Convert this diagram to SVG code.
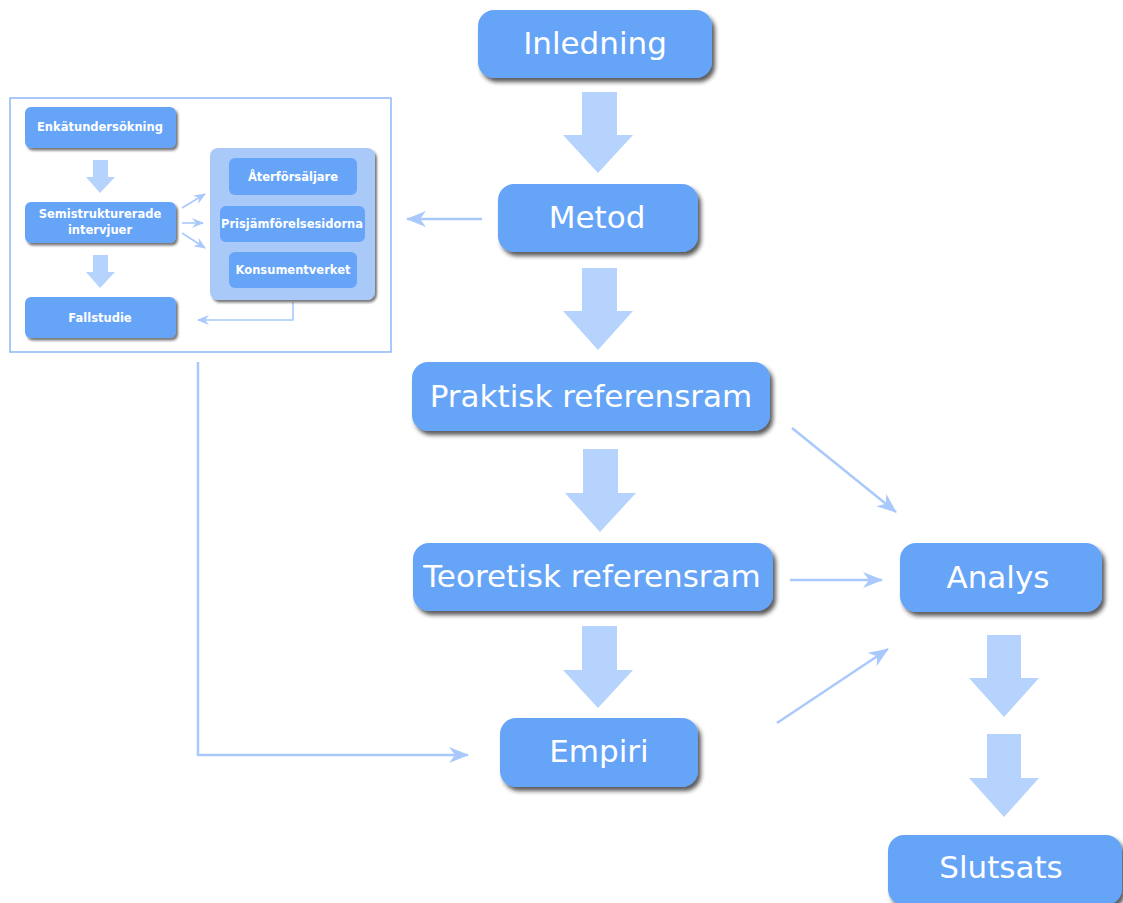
<svg xmlns="http://www.w3.org/2000/svg" width="1123" height="903" viewBox="0 0 1123 903">
<defs>
<filter id="sh" x="-10%" y="-20%" width="125%" height="150%">
<feDropShadow dx="3" dy="4" stdDeviation="2.2" flood-color="#222222" flood-opacity="0.75"/>
</filter>
<filter id="shs" x="-10%" y="-20%" width="125%" height="150%">
<feDropShadow dx="2" dy="2.5" stdDeviation="1.3" flood-color="#222222" flood-opacity="0.6"/>
</filter>
<marker id="ah" viewBox="0 0 20 16" refX="19" refY="8" markerWidth="20" markerHeight="16" markerUnits="userSpaceOnUse" orient="auto">
<path d="M0,0 L20,8 L0,16 L6,8 Z" fill="#a9c8fb"/>
</marker>
<marker id="ahs" viewBox="0 0 12 10" refX="11" refY="5" markerWidth="12" markerHeight="10" markerUnits="userSpaceOnUse" orient="auto">
<path d="M0,0 L12,5 L0,10 L4,5 Z" fill="#a9c8fb"/>
</marker>
</defs>
<style>
.n{fill:#66a4f8;filter:url(#sh)}
.ns{fill:#66a4f8;filter:url(#shs)}
.t{font-family:"DejaVu Sans",Verdana,sans-serif;font-size:31px;fill:#ffffff;text-anchor:middle;dominant-baseline:central}
.ts{font-family:"DejaVu Sans",Verdana,sans-serif;font-size:11.5px;font-weight:bold;fill:#ffffff;text-anchor:middle;dominant-baseline:central}
.ba{fill:#b6d3fd}
.ln{fill:none;stroke:#a9c8fb;stroke-width:2.5}
.lns{fill:none;stroke:#a9c8fb;stroke-width:1.6}
</style>
<rect width="1123" height="903" fill="#ffffff"/>
<rect id="metod-ram" x="10" y="98" width="381" height="254" fill="none" stroke="#8db8f7" stroke-width="1.5"/>

<g id="connectors">
<path class="ba" d="M582,92 H617 V135 H633 L598,173 L563,135 H582 Z"/>
<path class="ba" d="M582,268 H617 V311 H633 L598,350 L563,311 H582 Z"/>
<path class="ba" d="M583,449 H618 V493 H636 L600,532 L565,493 H583 Z"/>
<path class="ba" d="M582,626 H617 V670 H633 L598,708 L563,670 H582 Z"/>
<path class="ba" d="M987,635 H1021 V678 H1039 L1004,717 L969,678 H987 Z"/>
<path class="ba" d="M987,734 H1021 V778 H1039 L1004,817 L969,778 H987 Z"/>
<path class="ba" d="M93,160 H108 V177 H115 L100,193 L86,177 H93 Z"/>
<path class="ba" d="M93,255 H108 V272 H115 L100,288 L86,272 H93 Z"/>
<line class="ln" x1="482" y1="219" x2="407" y2="219" marker-end="url(#ah)"/>
<line class="ln" x1="792" y1="428" x2="896" y2="512" marker-end="url(#ah)"/>
<line class="ln" x1="790" y1="580" x2="882" y2="580" marker-end="url(#ah)"/>
<line class="ln" x1="777" y1="723" x2="888" y2="649" marker-end="url(#ah)"/>
<polyline class="ln" points="198,362 198,755 468,755" marker-end="url(#ah)"/>
<line class="lns" x1="182" y1="208" x2="205" y2="194" marker-end="url(#ahs)"/>
<line class="lns" x1="182" y1="223" x2="203" y2="223" marker-end="url(#ahs)"/>
<line class="lns" x1="182" y1="233" x2="205" y2="248" marker-end="url(#ahs)"/>
<polyline class="lns" points="293,302 293,320 198,320" marker-end="url(#ahs)"/>
</g>

<g id="inledning"><rect class="n" x="478" y="10" width="234" height="68" rx="16"/><text class="t" x="595" y="43">Inledning</text></g>
<g id="metod"><rect class="n" x="498" y="184" width="200" height="68" rx="16"/><text class="t" x="597" y="217">Metod</text></g>
<g id="praktisk"><rect class="n" x="412" y="362" width="358" height="69" rx="16"/><text class="t" x="591" y="396">Praktisk referensram</text></g>
<g id="teoretisk"><rect class="n" x="413" y="543" width="360" height="68" rx="16"/><text class="t" x="592" y="576">Teoretisk referensram</text></g>
<g id="empiri"><rect class="n" x="500" y="718" width="198" height="69" rx="16"/><text class="t" x="599" y="751">Empiri</text></g>
<g id="analys"><rect class="n" x="900" y="543" width="202" height="69" rx="16"/><text class="t" x="998" y="577">Analys</text></g>
<g id="slutsats"><rect class="n" x="888" y="835" width="234" height="70" rx="16"/><text class="t" x="1001" y="867">Slutsats</text></g>

<g id="metod-detalj">
<g id="enkat"><rect class="ns" x="25" y="107" width="151" height="41" rx="6"/><text class="ts" x="100" y="127">Enkätundersökning</text></g>
<g id="semi"><rect class="ns" x="25" y="202" width="151" height="41" rx="6"/><text class="ts" x="100" y="214">Semistrukturerade</text><text class="ts" x="100" y="230">intervjuer</text></g>
<g id="fallstudie"><rect class="ns" x="25" y="297" width="151" height="41" rx="6"/><text class="ts" x="100" y="318">Fallstudie</text></g>
<g id="kallor">
<rect x="210" y="148" width="165" height="152" rx="8" fill="#a9c9f9" filter="url(#shs)"/>
<g id="aterforsaljare"><rect x="229" y="158" width="128" height="37" rx="6" fill="#66a4f8"/><text class="ts" x="293" y="177">Återförsäljare</text></g>
<g id="prisjamforelse"><rect x="220" y="206" width="145" height="36" rx="6" fill="#66a4f8"/><text class="ts" x="292" y="224">Prisjämförelsesidorna</text></g>
<g id="konsumentverket"><rect x="229" y="252" width="128" height="36" rx="6" fill="#66a4f8"/><text class="ts" x="293" y="270">Konsumentverket</text></g>
</g>
</g>
</svg>
